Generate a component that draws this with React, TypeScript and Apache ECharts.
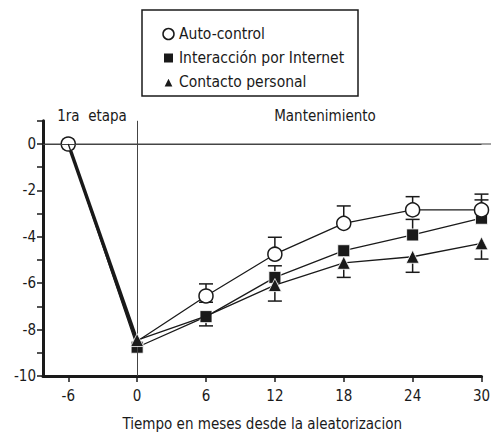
import React, { useEffect, useRef } from "react";
import * as echarts from "echarts";

const months = [-6, 0, 6, 12, 18, 24, 30];
const autoControl = [0, -8.5, -6.55, -4.75, -3.42, -2.84, -2.84];
const internet = [0, -8.76, -7.44, -5.75, -4.6, -3.92, -3.2];
const personal = [0, -8.45, -7.42, -6.08, -5.12, -4.86, -4.28];

// error bar ends (null = not shown)
const autoLow = [null, null, -6.82, null, null, null, null];
const autoHigh = [null, null, -6.03, -4.02, -2.67, -2.27, -2.16];
const internetLow = [null, null, -7.84, null, null, null, null];
const internetHigh = [null, null, null, -5.25, null, -3.25, -2.41];
const personalLow = [null, null, null, -6.77, -5.75, -5.53, -4.96];
const personalHigh = [null, null, null, null, null, null, null];

const xTicks = [-6, 0, 6, 12, 18, 24, 30];
const seriesNames = ["Auto-control", "Interacción por Internet", "Contacto personal"];
const xAxisTitle = "Tiempo en meses desde la aleatorizacion";
const stageLabels = ["1ra  etapa", "Mantenimiento"];

const FONT = "'Liberation Sans Narrow', 'DejaVu Sans Condensed', 'Arial Narrow', sans-serif";
const INK = "#1a1a1a";

export default function App() {
  const ref = useRef<HTMLDivElement>(null);
  useEffect(() => {
    document.body.style.margin = "0";
    if (!ref.current) return;
    const chart = echarts.init(ref.current, null, { renderer: "svg" });

    const errData = (vals: number[], lo: (number | null)[], hi: (number | null)[]) =>
      months.map((m, i) => [m, vals[i], lo[i] == null ? vals[i] : lo[i], hi[i] == null ? vals[i] : hi[i]]);

    const errSeries = (name: string, data: any[]) => ({
      type: "custom",
      name: name + "-err",
      z: 1,
      silent: true,
      encode: { x: 0, y: 1 },
      data,
      renderItem: (params: any, api: any) => {
        const x = api.value(0);
        const v = api.value(1);
        const lo = api.value(2);
        const hi = api.value(3);
        const pLo = api.coord([x, lo]);
        const pHi = api.coord([x, hi]);
        const st = { stroke: INK, lineWidth: 1.5 };
        const children: any[] = [];
        if (lo === v && hi === v) return { type: "group", children };
        children.push({ type: "line", shape: { x1: pLo[0], y1: pLo[1], x2: pHi[0], y2: pHi[1] }, style: st });
        const hw = 7;
        if (lo !== v) children.push({ type: "line", shape: { x1: pLo[0] - hw, y1: pLo[1], x2: pLo[0] + hw, y2: pLo[1] }, style: st });
        if (hi !== v) children.push({ type: "line", shape: { x1: pHi[0] - hw, y1: pHi[1], x2: pHi[0] + hw, y2: pHi[1] }, style: st });
        return { type: "group", children };
      },
    });

    const lineData = (vals: number[], hideAt: number[]) =>
      months.map((m, i) => (hideAt.includes(m) ? { value: [m, vals[i]], symbol: "none" } : { value: [m, vals[i]] }));

    chart.setOption({
      animation: false,
      textStyle: { fontFamily: FONT },
      grid: { left: 43, right: 9.5, top: 120.8, bottom: 59, containLabel: false, outerBoundsMode: "none" },
      legend: {
        orient: "vertical",
        left: 157,
        top: 21,
        itemGap: 8,
        itemWidth: 11,
        itemHeight: 11,
        textStyle: { fontFamily: FONT, fontSize: 15.5, color: INK, padding: [0, 0, 0, 0] },
        data: [
          { name: seriesNames[0], icon: "circle", itemStyle: { color: "#fff", borderColor: INK, borderWidth: 1.5 } },
          { name: seriesNames[1], icon: "rect", itemStyle: { color: INK } },
          { name: seriesNames[2], icon: "triangle", itemStyle: { color: INK } },
        ],
      },
      xAxis: {
        type: "value",
        min: -8.2,
        max: 30,
        splitLine: { show: false },
        axisLine: { onZero: false, lineStyle: { color: INK, width: 3 } },
        axisTick: { show: true, length: 6, lineStyle: { color: INK, width: 1.5 }, customValues: xTicks },
        axisLabel: { fontSize: 15, color: INK, margin: 12, fontFamily: FONT, customValues: xTicks },
        name: xAxisTitle,
        nameLocation: "middle",
        nameGap: 40,
        nameTextStyle: { fontSize: 15, color: INK, fontFamily: FONT },
      },
      yAxis: {
        type: "value",
        min: -10,
        max: 1,
        interval: 1,
        splitLine: { show: false },
        axisLine: { onZero: false, lineStyle: { color: INK, width: 3 } },
        axisTick: { show: true, length: 6, lineStyle: { color: INK, width: 1.5 } },
        axisLabel: {
          fontSize: 15,
          color: INK,
          margin: 7,
          fontFamily: FONT,
          formatter: (v: number) => (v <= 0 && Math.round(v) % 2 === 0 ? String(v) : ""),
        },
      },
      series: [
        errSeries(seriesNames[1], errData(internet, internetLow, internetHigh)),
        errSeries(seriesNames[0], errData(autoControl, autoLow, autoHigh)),
        errSeries(seriesNames[2], errData(personal, personalLow, personalHigh)),
        {
          // the first-stage drop, drawn heavier as in the original figure
          type: "line",
          name: "1ra etapa",
          data: months.slice(0, 2).map((m, i) => [m, autoControl[i]]),
          symbol: "none",
          lineStyle: { color: INK, width: 3.5 },
          z: 2,
          silent: true,
        },
        {
          type: "line",
          name: seriesNames[1],
          data: lineData(internet, []),
          symbol: "rect",
          symbolSize: 12,
          lineStyle: { color: INK, width: 1.3 },
          itemStyle: { color: INK, borderColor: "#fff", borderWidth: 0.8 },
          z: 3,
          markLine: {
            silent: true,
            symbol: "none",
            label: { show: false },
            lineStyle: { color: "#444", width: 1, type: "solid" },
            data: [{ xAxis: 0 }, { yAxis: 0 }],
          },
        },
        {
          type: "line",
          name: seriesNames[0],
          data: lineData(autoControl, [0]),
          symbol: "circle",
          symbolSize: 14,
          lineStyle: { color: INK, width: 1.3 },
          itemStyle: { color: "#fff", borderColor: INK, borderWidth: 1.5 },
          z: 4,
        },
        {
          type: "line",
          name: seriesNames[2],
          data: lineData(personal, [-6, 6]),
          symbol: "triangle",
          symbolSize: 13,
          lineStyle: { color: INK, width: 1.3 },
          itemStyle: { color: INK, borderColor: "#fff", borderWidth: 0.8 },
          z: 5,
        },
      ],
    });

    const y0 = chart.convertToPixel({ yAxisIndex: 0 }, 0) as number;
    const xl = chart.convertToPixel({ xAxisIndex: 0 }, -8.2) as number;
    const yTop = chart.convertToPixel({ yAxisIndex: 0 }, 1) as number;
    chart.setOption({
      graphic: [
        { type: "line", shape: { x1: xl, y1: y0, x2: 491, y2: y0 }, style: { stroke: "#444", lineWidth: 1 }, z: 0 },
        { type: "rect", shape: { x: 142, y: 10, width: 216, height: 86 }, style: { fill: "none", stroke: INK, lineWidth: 1.5 } },
        {
          type: "text",
          x: 92,
          y: yTop + 3,
          style: { text: stageLabels[0], font: `15px ${FONT}`, fill: INK, textAlign: "center", textVerticalAlign: "bottom" },
        },
        {
          type: "text",
          x: 325,
          y: yTop + 3,
          style: { text: stageLabels[1], font: `15px ${FONT}`, fill: INK, textAlign: "center", textVerticalAlign: "bottom" },
        },
      ],
    });

    return () => chart.dispose();
  }, []);
  return <div ref={ref} style={{ width: 491, height: 435 }} />;
}
